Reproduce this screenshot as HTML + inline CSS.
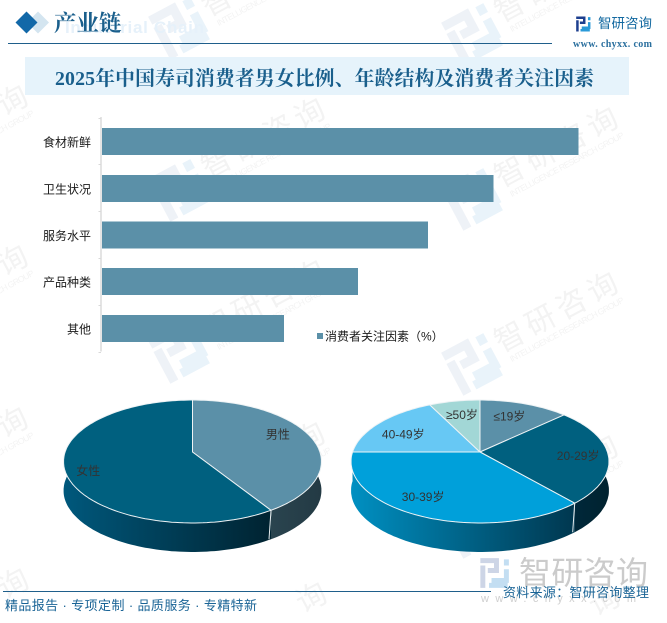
<!DOCTYPE html>
<html lang="zh">
<head>
<meta charset="utf-8">
<title>2025年中国寿司消费者男女比例、年龄结构及消费者关注因素</title>
<style>
html,body{margin:0;padding:0;background:#fff;width:667px;height:623px;overflow:hidden}
svg{display:block;overflow:hidden}
text{font-family:"Liberation Sans","Noto Sans CJK SC",sans-serif}
.serif{font-family:"Liberation Serif","Noto Serif CJK SC",serif;font-weight:700}
.lab{font-family:"Liberation Sans","WenQuanYi Zen Hei","Noto Sans CJK SC",sans-serif}
</style>
</head>
<body>
<svg id="root" xmlns="http://www.w3.org/2000/svg" width="667" height="623" viewBox="0 0 667 623">
  <g id="watermarks"></g>

  <g>
    <text x="65" y="33" font-size="17" font-weight="700" fill="#e6f1fa" textLength="139">Industrial Chain</text>
    <polygon points="38,11.5 49,22.5 38,33.5 27,22.5" fill="#d4e5f0"/>
    <polygon points="26.5,11.5 37.5,22.5 26.5,33.5 15.5,22.5" fill="#1268a8"/>
    <text class="serif" x="54" y="31" font-size="22.5" fill="#1a5f8c">产业链</text>
    <rect x="8" y="43" width="544" height="1" fill="#1f5f8b"/>
    <g transform="translate(583,24) scale(0.31)" fill="none" stroke-width="8">
      <path d="M-22,-20 H4 V-4 H-10 M-18,-12 V24" stroke="#1d3f8f"/>
      <path d="M20,-22 V-12 M20,-6 V12 H-4 M-8,20 H22" stroke="#2a9ad8"/>
    </g>
    <text x="598" y="28" font-size="13.5" fill="#1268a0">智研咨询</text>
    <text class="serif" x="573" y="47" font-size="10" fill="#2a6f9e" textLength="79">www. chyxx. com</text>
  </g>

  <g>
    <rect x="25" y="57" width="604" height="38" fill="#e6f3fb"/>
    <text class="serif" x="55" y="85" font-size="19.8" fill="#1a5f8c" textLength="539">2025年中国寿司消费者男女比例、年龄结构及消费者关注因素</text>
  </g>

  <g id="barChart"></g>
  <g id="pieGender"></g>
  <g id="pieAge"></g>

  <g>
    <g>
      <g transform="translate(494,573) scale(0.62)" fill="none" stroke-width="8">
        <path d="M-22,-20 H4 V-4 H-10 M-18,-12 V24" stroke="#cdd5e6"/>
        <path d="M20,-22 V-12 M20,-6 V12 H-4 M-8,20 H22" stroke="#c3def2"/>
      </g>
      <text x="519" y="584" font-size="32" fill="#cbcbcb" textLength="129">智研咨询</text>
      <text x="481" y="602" font-size="11" fill="#cfcfcf" textLength="155">www.chyxx.com</text>
    </g>
    <rect x="3" y="591" width="488" height="1" fill="#1f5f8b"/>
    <text x="5" y="610" font-size="13" fill="#1a6496" textLength="252">精品报告 · 专项定制 · 品质服务 · 专精特新</text>
    <text x="503" y="597" font-size="13" fill="#1a6496" textLength="146">资料来源：智研咨询整理</text>
  </g>
</svg>

<script>
// ---- bar chart data ----
const barCategories = ["食材新鲜", "卫生状况", "服务水平", "产品种类", "其他"];
const barValues = [68.1, 55.9, 46.6, 36.6, 26.0];
const barLegendLabel = "消费者关注因素（%）";

// ---- gender pie data ----
const genderLabels = ["男性", "女性"];
const genderValues = [41, 59];

// ---- age pie data ----
const ageLabels = ["≤19岁", "20-29岁", "30-39岁", "40-49岁", "≥50岁"];
const ageValues = [13, 25.6, 36.4, 17.6, 7.4];

const NS = "http://www.w3.org/2000/svg";
function mk(tag, parent, attrs, txt) {
  const el = document.createElementNS(NS, tag);
  for (const k in attrs) el.setAttribute(k, attrs[k]);
  if (txt !== undefined) el.textContent = txt;
  parent.appendChild(el);
  return el;
}

// ---- watermarks ----
(function () {
  const layer = document.getElementById("watermarks");
  const spots = [[179,28],[472,34],[179,190],[472,199],[-118,177],[179,352],[472,364],[-118,337],[179,514],[472,527],[-118,499]];
  spots.forEach(function (p) {
    const g = mk("g", layer, {transform: "translate(" + p[0] + "," + p[1] + ") rotate(-28)"});
    
    
    mk("path", g, {d: "M-22,-20 H4 V-4 H-10 M-18,-12 V24", fill: "none", stroke: "#eef2f7", "stroke-width": 9});
    mk("path", g, {d: "M20,-22 V-12 M20,-6 V12 H-4 M-8,20 H22", fill: "none", stroke: "#e9f3fa", "stroke-width": 9});
    mk("text", g, {x: 31, y: 4, "font-size": 30, fill: "#f3f3f3", "letter-spacing": 5}, "智研咨询");
    mk("text", g, {x: 36, y: 17, "font-size": 8.5, fill: "#f3f3f3", textLength: 128}, "INTELLIGENCE RESEARCH GROUP");
  });
  [[13,583],[311,597],[604,600]].forEach(function (p) {
    const t = mk("text", layer, {transform: "translate(" + p[0] + "," + p[1] + ") rotate(-28)", x: -15, y: 11, "font-size": 30, fill: "#f3f3f3"}, "询");
    
    
  });
})();

// ---- bar chart ----
(function () {
  const root = document.getElementById("barChart");
  const x0 = 102, pxPerUnit = 7, top = 118.2, band = 46.7, barH = 27;
  const xScale = function (v) { return v * pxPerUnit; };
  const axis = mk("line", root, {x1: 101, x2: 101, y1: 117, y2: 351.5, stroke: "#d9d9d9", "stroke-width": 1.4});
  
  
  for (let i = 0; i <= barCategories.length; i++) {
    const y = Math.round(117.5 + 46.8 * i) + 0.5;
    const t = mk("line", root, {x1: 98.5, x2: 101, y1: y, y2: y, stroke: "#d9d9d9"});
    
    
  }
  barCategories.forEach(function (c, i) {
    const cy = top + band * (i + 0.5);
    const r = mk("rect", root, {x: x0, y: cy - barH / 2, width: xScale(barValues[i]), height: barH, fill: "#5b90a8", "shape-rendering": "crispEdges"});
    
    
    const l = mk("text", root, {x: 91, y: cy + 5, "font-size": 12, "text-anchor": "end", fill: "#1a1a1a", "class": "lab"}, c);
    
    
  });
  const sw = mk("rect", root, {x: 317, y: 333, width: 6, height: 6, fill: "#5b90a8"});
  
  
  const lt = mk("text", root, {x: 325, y: 340.5, "font-size": 12, fill: "#1a1a1a", "class": "lab"}, barLegendLabel);
  
  
})();

// ---- perspective 3D pie ----
function drawPie(root, cfg) {
  const R = 127.4, H = 60, K = 0.1545, depth = 29;
  const total = cfg.values.reduce(function (a, b) { return a + b; }, 0);
  const project = function (frac) {
    const a = frac * 2 * Math.PI, u = Math.sin(a), v = -Math.cos(a), d = 1 - K * v;
    return [cfg.cx + R * u / d, cfg.cy + H * v / d, v];
  };
  const slices = [];
  let acc = 0;
  cfg.values.forEach(function (val, i) {
    const f0 = acc / total, f1 = (acc + val) / total;
    acc += val;
    const rim = [];
    const steps = Math.max(8, Math.ceil((f1 - f0) * 240));
    for (let s = 0; s <= steps; s++) rim.push(project(f0 + (f1 - f0) * s / steps));
    slices.push({i: i, rim: rim, mid: (f0 + f1) / 2, f0: f0, f1: f1});
  });
  const defs = mk("defs", root, {});
  // side walls, back to front
  slices.slice().sort(function (a, b) { return project(a.mid)[2] - project(b.mid)[2]; }).forEach(function (s) {
    const front = s.rim.filter(function (p) { return p[2] > -0.25; });
    if (front.length < 2) return;
    const id = cfg.id + "-side-" + s.i;
    const xs = front.map(function (p) { return p[0]; });
    const lg = mk("linearGradient", defs, {id: id, gradientUnits: "userSpaceOnUse", x1: Math.min.apply(null, xs), x2: Math.max.apply(null, xs), y1: 0, y2: 0});
    mk("stop", lg, {offset: 0, "stop-color": cfg.sideLeft[s.i]});
    mk("stop", lg, {offset: 1, "stop-color": cfg.sideRight[s.i]});
    const up = front.map(function (p) { return p[0].toFixed(1) + "," + p[1].toFixed(1); });
    const dn = front.slice().reverse().map(function (p) { return p[0].toFixed(1) + "," + (p[1] + depth).toFixed(1); });
    const wall = mk("polygon", root, {points: up.concat(dn).join(" "), fill: "url(#" + id + ")"});
    
    
    [front[0], front[front.length - 1]].forEach(function (p) {
      if (Math.abs(p[2]) < 0.95 && p[2] > 0.1) {
        const sep = mk("line", root, {x1: p[0], y1: p[1], x2: p[0] - (p[0] > cfg.cx ? 2 : -2), y2: p[1] + depth, stroke: "#e8eef0", "stroke-width": 1});
        
        
      }
    });
  });
  // top faces
  slices.forEach(function (s) {
    const d = "M" + cfg.cx + "," + cfg.cy + " L" + s.rim.map(function (p) { return p[0].toFixed(1) + "," + p[1].toFixed(1); }).join(" L") + " Z";
    const face = mk("path", root, {d: d, fill: cfg.colors[s.i], stroke: "#eef3f5", "stroke-width": 1, "stroke-linejoin": "round"});
    
    
  });
  // labels
  slices.forEach(function (s) {
    const a = s.mid * 2 * Math.PI, rr = cfg.labelR[s.i];
    const u = Math.sin(a) * rr, v = -Math.cos(a) * rr, d = 1 - K * v;
    const t = mk("text", root, {x: cfg.cx + R * u / d + cfg.nudgeX[s.i], y: cfg.cy + H * v / d + 4 + cfg.nudgeY[s.i], "font-size": 12, "text-anchor": "middle", fill: "#333", "class": "lab"}, cfg.labels[s.i]);
    
    
  });
}

drawPie(document.getElementById("pieGender"), {
  id: "gender", cx: 192.5, cy: 452, values: genderValues, labels: genderLabels,
  colors: ["#5b90a8", "#00607f"],
  sideLeft: ["#2a444f", "#00587c"],
  sideRight: ["#233a44", "#002331"],
  labelR: [0.72, 0.92],
  nudgeX: [0, 13],
  nudgeY: [-6, 3]
});
drawPie(document.getElementById("pieAge"), {
  id: "age", cx: 480, cy: 452, values: ageValues, labels: ageLabels,
  colors: ["#5b90a8", "#00607f", "#00a0da", "#67c8f4", "#a2d7d6"],
  sideLeft: ["#5b90a8", "#00283a", "#0090c2", "#3a8fb5", "#77bbbb"],
  sideRight: ["#5b90a8", "#00222f", "#00374f", "#3a8fb5", "#77bbbb"],
  labelR: [0.8, 0.72, 0.62, 0.72, 0.72],
  nudgeX: [-7, 6, -21, -3, 1],
  nudgeY: [4, 2, 8, 4, 1]
});
</script>
</body>
</html>
